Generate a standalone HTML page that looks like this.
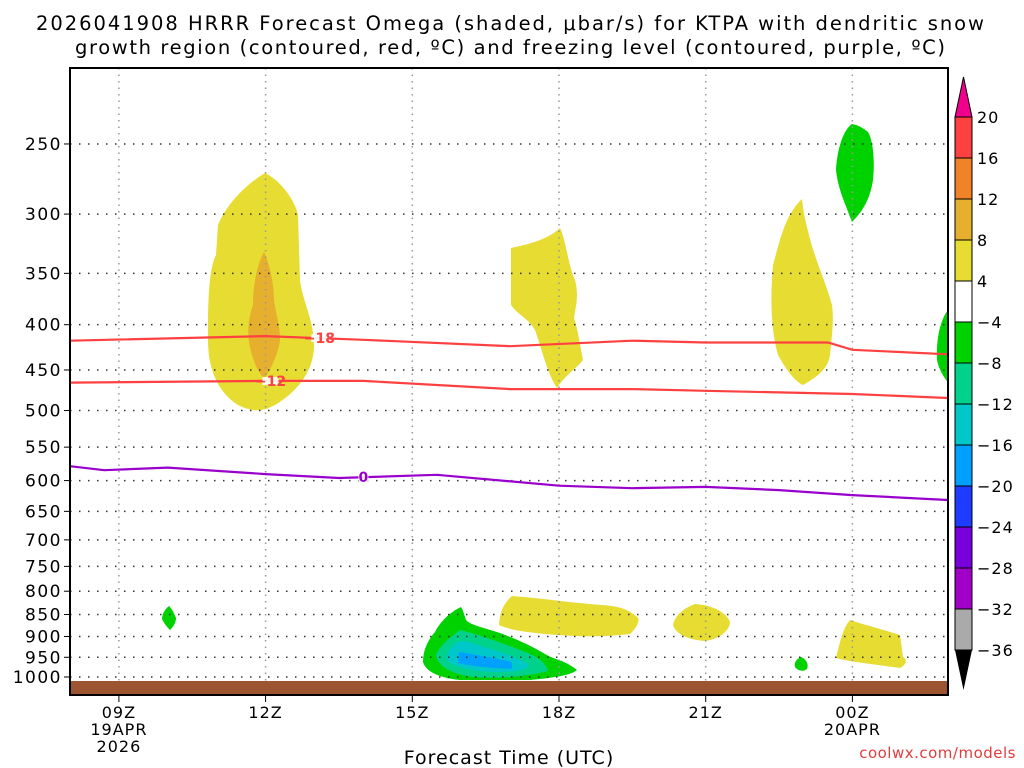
<!DOCTYPE html>
<html><head><meta charset="utf-8"><style>
body{margin:0;background:#fff;}
svg{display:block;font-family:"DejaVu Sans","Liberation Sans",sans-serif;}
</style></head><body>
<svg id="chart" width="1024" height="768" viewBox="0 0 1024 768">
<g font-size="19.5" fill="#000" text-anchor="middle">
<text x="510" y="30" textLength="948" lengthAdjust="spacing">2026041908 HRRR Forecast Omega (shaded, μbar/s) for KTPA with dendritic snow</text>
<text x="510" y="54" textLength="870" lengthAdjust="spacing">growth region (contoured, red, ºC) and freezing level (contoured, purple, ºC)</text>
</g>
<g id="shading">
<path fill="#e6dc32" d="M265,173 C245,185 226,205 218,225 L216,255 C208,270 208,310 208,340 C208,375 222,395 238,405 C252,412 262,412 275,405 C292,395 314,375 314,345 C314,320 302,300 300,280 L298,215 C295,200 280,180 265,173Z"/>
<path fill="#e6af2d" d="M264,252 C257,265 253,285 253,305 C248,320 246,335 252,355 C256,368 262,378 265,378 C270,370 278,355 280,340 C280,325 276,315 274,300 C274,285 270,265 264,252Z"/>
<path fill="#e6dc32" d="M511,248 L511,305 C518,315 528,318 535,330 C542,350 548,375 557,388 C565,375 575,370 583,360 C580,345 578,330 574,318 C576,305 579,295 575,280 C568,265 566,240 560,228 C548,240 525,245 511,248Z"/>
<path fill="#e6dc32" d="M802,199 C785,215 780,240 773,265 C770,300 771,330 778,355 C785,368 795,382 803,385 C815,378 828,370 830,355 C832,335 834,320 832,305 C825,280 815,260 809,235 C805,220 803,210 802,199Z"/>
<path fill="#00d200" d="M852,124 C843,130 837,150 836,170 C838,190 846,205 852,222 C862,212 870,200 873,180 C875,160 873,140 868,132 C862,127 857,125 852,124Z"/>
<path fill="#00d200" d="M948,310 C940,320 936,340 937,360 C939,370 944,378 948,382Z"/>
<path fill="#e6dc32" d="M512,596 C505,602 500,610 499,625 C510,630 525,632 545,634 C570,636 595,638 630,634 C637,628 640,620 638,618 C625,605 610,606 590,604 C565,602 540,598 512,596Z"/>
<path fill="#e6dc32" d="M695,604 C684,608 675,615 673,625 C676,635 690,640 705,641 C720,639 730,630 730,622 C726,612 712,605 695,604Z"/>
<path fill="#e6dc32" d="M850,620 C843,628 840,642 836,658 C850,662 880,665 900,668 C906,665 908,660 903,657 L900,635 C885,630 868,626 850,620Z"/>
<path fill="#00d200" d="M169,606 C164,610 162,615 162,619 C165,625 168,628 170,630 C174,626 176,622 176,618 C174,613 172,609 169,606Z"/>
<path fill="#00d200" d="M801,657 C796,659 794,663 795,667 C798,671 803,672 807,669 C809,664 806,659 801,657Z"/>
<path fill="#00d200" d="M461,607 C450,612 440,622 435,632 C428,640 423,650 423,662 C426,672 440,678 460,680 L530,680 C550,678 570,676 577,670 C565,660 555,660 545,654 C530,645 518,640 500,633 C485,628 470,625 466,620 C464,614 463,610 461,607Z"/>
<path fill="#00d28c" d="M460,630 C450,638 440,645 436,655 C438,668 455,675 475,677 C500,679 530,676 548,671 C546,662 535,655 520,650 C500,642 480,635 460,630Z"/>
<path fill="#00c8c8" d="M460,641 C452,645 446,652 447,660 C455,668 475,672 500,672 C520,672 530,669 528,664 C515,656 495,650 480,646 C472,643 466,641 460,641Z"/>
<path fill="#00a0ff" d="M459,652 L458,663 C470,666 490,668 512,669 L512,662 C495,658 478,655 459,652Z"/>
</g>
<g id="grid"></g>
<g id="lines"></g>
<rect x="71" y="681" width="877" height="14" fill="#9c5530"/>
<rect x="70" y="68" width="878" height="627" fill="none" stroke="#000" stroke-width="2"/>
<g id="yaxis" font-size="17" text-anchor="end" letter-spacing="1.5"></g>
<g id="xaxis" font-size="16" text-anchor="middle" letter-spacing="1"></g>
<text x="509" y="764" font-size="19" text-anchor="middle" letter-spacing="1">Forecast Time (UTC)</text>
<text x="1016" y="758" font-size="15" fill="#e23c3c" text-anchor="end" letter-spacing="0.5">coolwx.com/models</text>
<g id="cbar" font-size="16" letter-spacing="1"></g>
</svg>
<script>
const NS='http://www.w3.org/2000/svg';
const pressureTicks=[250,300,350,400,450,500,550,600,650,700,750,800,850,900,950,1000];
const hourTicks=[9,12,15,18,21,24];
const hourLabels=['09Z','12Z','15Z','18Z','21Z','00Z'];
const hourSub=[['19APR','2026'],[],[],[],[],['20APR']];
const redHours18=[8,12,14,17,19.5,21,23.5,24,25.95];
const redP18=[417,412,416,423,417,419,419,427,432];
const redHours12=[8,12,14,17,19.5,21,24,25.95];
const redP12=[465,463,463,473,473,475,479,484];
const purpleHours=[8,8.7,10,12,13.5,15.5,18,19.5,21,22.5,24,25.95];
const purpleP=[578,584,580,590,596,591,608,612,610,615,623,631];
const cbarLabels=['20','16','12','8','4','−4','−8','−12','−16','−20','−24','−28','−32','−36'];
const cbarColors=['#ff4040','#f08228','#e6af2d','#e6dc32','#ffffff','#00d200','#00d28c','#00c8c8','#00a0ff','#1e3cff','#7800dc','#a000c8','#aaaaaa'];

const x=h=>70+(h-8)*48.9;
const y=p=>677-384.5*Math.log(1000/p);
function mk(tag,attrs,parent){const e=document.createElementNS(NS,tag);for(const k in attrs)e.setAttribute(k,attrs[k]);parent.appendChild(e);return e;}
const grid=document.getElementById('grid'),ya=document.getElementById('yaxis'),xa=document.getElementById('xaxis');
pressureTicks.forEach(p=>{
  const l=mk('line',{x1:70,x2:948,y1:y(p),y2:y(p),stroke:'#333','stroke-width':1.5,'stroke-dasharray':'1.5 7.5'},grid);
  
  
  const t=mk('line',{x1:64,x2:70,y1:y(p),y2:y(p),stroke:'#000'},ya);
  
  
  const tx=mk('text',{x:62,y:y(p)+6},ya);tx.textContent=p;
  
  
});
hourTicks.forEach((h,i)=>{
  const l=mk('line',{x1:x(h),x2:x(h),y1:68,y2:695,stroke:'#999','stroke-width':1.5,'stroke-dasharray':'1.5 5'},grid);
  
  
  const t=mk('line',{x1:x(h),x2:x(h),y1:695,y2:702,stroke:'#000'},xa);
  
  
  [hourLabels[i]].concat(hourSub[i]).forEach((s,j)=>{
    const tx=mk('text',{x:x(h),y:718+j*17},xa);tx.textContent=s;
    
    
  });
});
const lines=document.getElementById('lines');
function drawLine(hs,ps,color,name,label,lh,w){
  const d=hs.map((h,i)=>(i?'L':'M')+x(h).toFixed(1)+','+y(ps[i]).toFixed(1)).join(' ');
  const pth=mk('path',{d:d,fill:'none',stroke:color,'stroke-width':2.2},lines);
  
  
  let k=0;while(k<hs.length-2&&hs[k+1]<lh)k++;
  const pv=ps[k]+(ps[k+1]-ps[k])*(lh-hs[k])/(hs[k+1]-hs[k]);
  const bg=mk('rect',{x:x(lh)-w/2,y:y(pv)-4,width:w,height:8,fill:'#fff',opacity:0.9},lines);
  
  
  const t=mk('text',{x:x(lh),y:y(pv)+5,fill:color,'font-size':14,'font-weight':'bold','text-anchor':'middle'},lines);
  t.textContent=label;
  
  
}
drawLine(redHours18,redP18,'#ff4040','contour-minus18','−18',13.1,16);
drawLine(redHours12,redP12,'#ff4040','contour-minus12','−12',12.1,16);
drawLine(purpleHours,purpleP,'#9900cc','freezing-level-0','0',14,10);
const cb=document.getElementById('cbar');
const tri1=mk('polygon',{points:'955,117 972,117 963.5,77',fill:'#f0008c',stroke:'#000'},cb);


cbarColors.forEach((c,i)=>{
  const r=mk('rect',{x:955,y:117+i*41,width:17,height:41,fill:c,stroke:'#000'},cb);
  
  
});
const tri2=mk('polygon',{points:'955,650 972,650 963.5,690',fill:'#000'},cb);


cbarLabels.forEach((s,i)=>{
  const t=mk('text',{x:977,y:117+i*41+6},cb);t.textContent=s;
  
  
});
</script>
</body></html>
